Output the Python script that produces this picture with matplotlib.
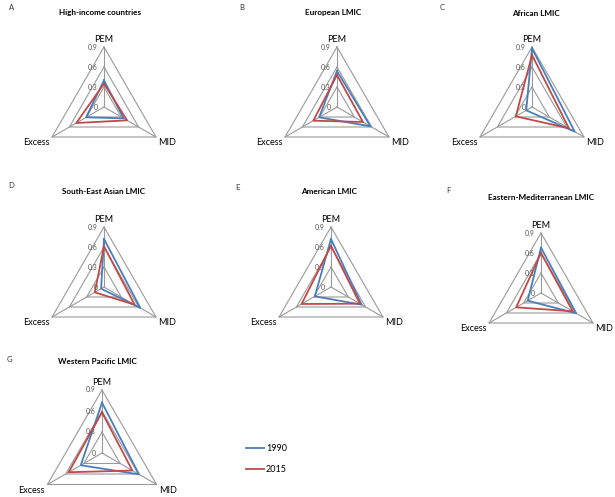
import numpy as np
import matplotlib
matplotlib.use("Agg")
import matplotlib.pyplot as plt

plt.rcParams['font.family'] = ['Lato', 'DejaVu Sans']

# Data
categories = ['PEM', 'MID', 'Excess']
ticks = [0, 0.3, 0.6, 0.9]
panel_letters = ['A', 'B', 'C', 'D', 'E', 'F', 'G']
panel_titles = ['High-income countries', 'European LMIC', 'African LMIC',
                'South-East Asian LMIC', 'American LMIC',
                'Eastern-Mediterranean LMIC', 'Western Pacific LMIC']
values_1990 = [
    [0.40, 0.34, 0.31],
    [0.54, 0.58, 0.31],
    [0.88, 0.74, 0.10],
    [0.72, 0.63, 0.05],
    [0.72, 0.53, 0.28],
    [0.68, 0.61, 0.23],
    [0.72, 0.61, 0.35],
]
values_2015 = [
    [0.35, 0.40, 0.48],
    [0.48, 0.45, 0.41],
    [0.78, 0.64, 0.28],
    [0.61, 0.53, 0.16],
    [0.62, 0.50, 0.51],
    [0.60, 0.55, 0.43],
    [0.58, 0.50, 0.55],
]
years = ['1990', '2015']

# layout in pixels (figure is 615 x 497)
W, H = 615, 497
centers = [(104, 107), (337, 107), (532, 107),
           (104, 287), (331, 287), (541, 293),
           (102, 453)]
radius_px = [60, 60, 60, 60, 60, 60, 63]
title_pos = [(100, 13), (333, 13), (536, 13),
             (104, 192), (329, 192), (541, 198), (97, 362)]
letter_pos = [(12, 7), (242, 7), (442, 7),
              (11, 186), (237, 188), (448, 190), (9, 359)]

blue = '#4A7EBB'
red = '#BE4B48'
grid_col = '#9a9a9a'

angles = np.deg2rad([90, -30, 210])


def to_xy(vals):
    vals = np.asarray(vals)
    x = vals * np.cos(angles)
    y = vals * np.sin(angles)
    return np.append(x, x[0]), np.append(y, y[0])


fig = plt.figure(figsize=(6.15, 4.97), dpi=100)

lines = []
for i in range(7):
    cx, cy = centers[i]
    s = radius_px[i] / 0.9  # pixels per unit
    bw, bh = 200, 170
    ax = fig.add_axes([(cx - bw / 2) / W, 1 - (cy + bh / 2) / H, bw / W, bh / H])
    ax.set_xlim(-bw / 2 / s, bw / 2 / s)
    ax.set_ylim(-bh / 2 / s, bh / 2 / s)
    ax.axis('off')

    # grid triangles and spokes
    for t in ticks[1:]:
        gx, gy = to_xy([t, t, t])
        ax.plot(gx, gy, color=grid_col, lw=0.8, zorder=1)
    for a in angles:
        ax.plot([0, 0.9 * np.cos(a)], [0, 0.9 * np.sin(a)], color=grid_col, lw=0.8, zorder=1)

    # tick labels along the PEM spoke
    for t in ticks:
        ax.annotate(str(t), (0, t), xytext=(-4.5, 0), textcoords='offset points',
                    ha='right', va='center', fontsize=5, color='#555555')

    # category labels
    ax.annotate(categories[0], (0, 0.9), xytext=(0, 2), textcoords='offset points',
                ha='center', va='bottom', fontsize=6.5)
    mx, my = 0.9 * np.cos(angles[1]), 0.9 * np.sin(angles[1])
    ax.annotate(categories[1], (mx, my), xytext=(1.5, -1), textcoords='offset points',
                ha='left', va='top', fontsize=6.5)
    ex, ey = 0.9 * np.cos(angles[2]), 0.9 * np.sin(angles[2])
    ax.annotate(categories[2], (ex, ey), xytext=(-2, -1), textcoords='offset points',
                ha='right', va='top', fontsize=6.5)

    bx, by = to_xy(values_1990[i])
    l1, = ax.plot(bx, by, color=blue, lw=1.3, zorder=3)
    rx, ry = to_xy(values_2015[i])
    l2, = ax.plot(rx, ry, color=red, lw=1.3, zorder=3)
    if i == 0:
        lines = [l1, l2]

    fig.text(title_pos[i][0] / W, 1 - title_pos[i][1] / H, panel_titles[i],
             ha='center', va='center', fontsize=5.9, fontweight='bold')
    fig.text(letter_pos[i][0] / W, 1 - letter_pos[i][1] / H, panel_letters[i],
             ha='center', va='center', fontsize=5.5, color='#333333')

fig.legend(lines, years, loc='center left', bbox_to_anchor=(238 / W, 1 - 459 / H),
           frameon=False, fontsize=6.5, handlelength=2.0, handletextpad=0.2,
           labelspacing=1.4)

fig.savefig('out.png', dpi=100)
